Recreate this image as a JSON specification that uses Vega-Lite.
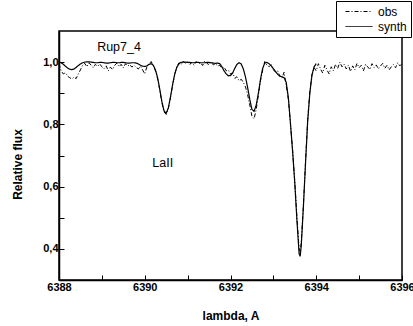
{
"$schema":"https://vega.github.io/schema/vega-lite/v6.json",
"width":343,"height":249,
"autosize":{"type":"none"},
"padding":{"left":59,"top":31,"right":11,"bottom":46},
"config":{"view":{"stroke":"black","strokeWidth":1.5},"font":"Liberation Sans"},
"datasets":{
"synth":[[6388.00,1.000],[6388.05,0.998],[6388.10,0.993],[6388.15,0.987],[6388.20,0.981],[6388.25,0.977],[6388.30,0.976],[6388.35,0.978],[6388.40,0.983],[6388.45,0.989],[6388.50,0.994],[6388.55,0.998],[6388.60,1.000],[6388.65,1.001],[6388.70,1.001],[6388.75,1.000],[6388.80,0.999],[6388.85,0.998],[6388.90,0.998],[6388.95,0.999],[6389.00,0.999],[6389.05,0.998],[6389.10,0.997],[6389.15,0.997],[6389.20,0.998],[6389.25,0.999],[6389.30,0.999],[6389.35,0.998],[6389.40,0.998],[6389.45,0.999],[6389.50,0.999],[6389.55,0.998],[6389.60,0.997],[6389.65,0.997],[6389.70,0.998],[6389.75,0.998],[6389.80,0.997],[6389.85,0.994],[6389.90,0.990],[6389.95,0.987],[6390.00,0.986],[6390.05,0.988],[6390.10,0.993],[6390.15,0.995],[6390.20,0.990],[6390.25,0.975],[6390.30,0.950],[6390.35,0.913],[6390.40,0.873],[6390.45,0.843],[6390.50,0.836],[6390.55,0.853],[6390.60,0.888],[6390.65,0.928],[6390.70,0.962],[6390.75,0.984],[6390.80,0.995],[6390.85,0.999],[6390.90,1.000],[6390.95,1.000],[6391.00,0.999],[6391.05,0.999],[6391.10,0.998],[6391.15,0.998],[6391.20,0.999],[6391.25,0.999],[6391.30,0.998],[6391.35,0.998],[6391.40,0.998],[6391.45,0.999],[6391.50,0.999],[6391.55,0.998],[6391.60,0.997],[6391.65,0.996],[6391.70,0.997],[6391.75,0.995],[6391.80,0.985],[6391.85,0.972],[6391.90,0.962],[6391.95,0.956],[6392.00,0.957],[6392.05,0.965],[6392.10,0.980],[6392.15,0.993],[6392.20,0.998],[6392.25,0.994],[6392.30,0.978],[6392.35,0.952],[6392.40,0.918],[6392.45,0.880],[6392.50,0.848],[6392.55,0.842],[6392.60,0.862],[6392.65,0.900],[6392.70,0.945],[6392.75,0.980],[6392.80,0.997],[6392.85,0.999],[6392.90,0.995],[6392.95,0.988],[6393.00,0.979],[6393.05,0.970],[6393.10,0.961],[6393.15,0.955],[6393.20,0.953],[6393.25,0.950],[6393.30,0.935],[6393.35,0.885],[6393.40,0.800],[6393.45,0.710],[6393.50,0.610],[6393.55,0.490],[6393.60,0.385],[6393.625,0.376],[6393.65,0.410],[6393.70,0.535],[6393.75,0.675],[6393.80,0.810],[6393.85,0.900],[6393.90,0.958],[6393.95,0.985],[6394.00,0.995]],
"obs":[[6388.00,0.995],[6388.05,0.972],[6388.10,0.962],[6388.15,0.966],[6388.20,0.955],[6388.25,0.950],[6388.30,0.946],[6388.35,0.952],[6388.40,0.947],[6388.45,0.962],[6388.50,0.975],[6388.55,0.990],[6388.60,0.996],[6388.65,0.985],[6388.70,0.998],[6388.75,0.990],[6388.80,0.982],[6388.85,0.993],[6388.90,0.986],[6388.95,0.994],[6389.00,0.985],[6389.05,0.979],[6389.10,0.988],[6389.15,0.972],[6389.20,0.984],[6389.25,0.976],[6389.30,0.990],[6389.35,0.997],[6389.40,0.985],[6389.45,0.993],[6389.50,0.981],[6389.55,0.995],[6389.60,0.987],[6389.65,0.992],[6389.70,0.984],[6389.75,0.990],[6389.80,0.983],[6389.85,0.978],[6389.90,0.987],[6389.95,0.975],[6390.00,0.962],[6390.05,0.985],[6390.10,0.993],[6390.15,1.002],[6390.20,0.988],[6390.25,0.972],[6390.30,0.946],[6390.35,0.910],[6390.40,0.870],[6390.45,0.840],[6390.50,0.832],[6390.55,0.850],[6390.60,0.885],[6390.65,0.926],[6390.70,0.962],[6390.75,0.986],[6390.80,0.998],[6390.85,0.992],[6390.90,1.003],[6390.95,0.996],[6391.00,1.001],[6391.05,0.993],[6391.10,0.999],[6391.15,0.990],[6391.20,1.002],[6391.25,0.995],[6391.30,0.998],[6391.35,0.989],[6391.40,1.004],[6391.45,0.996],[6391.50,0.992],[6391.55,1.000],[6391.60,0.991],[6391.65,0.996],[6391.70,0.987],[6391.75,0.990],[6391.80,0.980],[6391.85,0.984],[6391.90,0.972],[6391.95,0.975],[6392.00,0.962],[6392.05,0.966],[6392.10,0.948],[6392.15,0.953],[6392.20,0.940],[6392.25,0.945],[6392.30,0.935],[6392.35,0.920],[6392.40,0.895],[6392.45,0.862],[6392.50,0.826],[6392.55,0.818],[6392.60,0.848],[6392.65,0.893],[6392.70,0.940],[6392.75,0.975],[6392.80,1.002],[6392.85,0.990],[6392.90,0.985],[6392.95,0.992],[6393.00,0.975],[6393.05,0.968],[6393.10,0.972],[6393.15,0.955],[6393.20,0.948],[6393.25,0.968],[6393.30,0.925],[6393.35,0.880],[6393.40,0.800],[6393.45,0.715],[6393.50,0.615],[6393.55,0.500],[6393.60,0.400],[6393.625,0.390],[6393.65,0.420],[6393.70,0.540],[6393.75,0.680],[6393.80,0.815],[6393.85,0.905],[6393.90,0.960],[6393.95,0.982],[6394.00,0.972],[6394.05,0.995],[6394.10,0.978],[6394.15,0.965],[6394.20,0.990],[6394.25,0.975],[6394.30,0.962],[6394.35,0.985],[6394.40,0.972],[6394.45,0.993],[6394.50,0.980],[6394.55,1.000],[6394.60,0.985],[6394.65,0.994],[6394.70,0.978],[6394.75,0.990],[6394.80,0.970],[6394.85,0.988],[6394.90,0.975],[6394.95,0.996],[6395.00,0.982],[6395.05,0.990],[6395.10,0.972],[6395.15,0.993],[6395.20,0.985],[6395.25,0.976],[6395.30,0.995],[6395.35,0.983],[6395.40,0.991],[6395.45,0.978],[6395.50,0.988],[6395.55,0.996],[6395.60,0.980],[6395.65,0.990],[6395.70,0.975],[6395.75,0.985],[6395.80,0.992],[6395.85,0.982],[6395.90,0.998],[6395.95,0.988],[6396.00,0.995]],
"notes":[{"l":6389.4,"f":1.048,"t":"Rup7_4"},{"l":6390.42,"f":0.677,"t":"LaII"}]
},
"layer":[
{"data":{"name":"obs"},
 "transform":[{"calculate":"datum[0]","as":"l"},{"calculate":"datum[1]","as":"f"},{"calculate":"'obs'","as":"s"}],
 "mark":{"type":"line","color":"black","strokeWidth":1},
 "encoding":{
  "x":{"field":"l","type":"quantitative","scale":{"domain":[6388,6396],"nice":false,"zero":false},
   "axis":{"orient":"bottom","values":[6388,6389,6390,6391,6392,6393,6394,6395,6396],"format":"d","labelExpr":"datum.value % 2 == 0 ? datum.label : ''","title":"lambda, A","grid":false,"tickSize":-5,"tickColor":"black","domainColor":"black","domainWidth":1.5,"labelColor":"black","labelFontSize":11,"labelFontWeight":"bold","labelFlush":false,"labelPadding":6,"titleColor":"black","titleFontSize":12,"titleFontWeight":"bold","titlePadding":18}},
  "y":{"field":"f","type":"quantitative","scale":{"domain":[0.3,1.1],"nice":false,"zero":false},
   "axis":{"orient":"left","values":[0.4,0.5,0.6,0.7,0.8,0.9,1.0],"labelExpr":"round(datum.value*10) % 2 == 0 ? replace(format(datum.value,'.1f'),'.',',') : ''","title":"Relative flux","grid":false,"tickSize":-5,"tickColor":"black","domainColor":"black","domainWidth":1.5,"labelColor":"black","labelFontSize":11,"labelFontWeight":"bold","labelPadding":6,"titleColor":"black","titleFontSize":12,"titleFontWeight":"bold","titlePadding":18,"titleY":133}},
  "strokeDash":{"field":"s","type":"nominal","scale":{"domain":["obs","synth"],"range":[[4,2,1,2],[1,0]]},
   "legend":{"orient":"none","legendX":277,"legendY":-30,"title":null,"strokeColor":"black","fillColor":"white","padding":4,"symbolType":"stroke","symbolSize":729,"symbolStrokeColor":"black","symbolStrokeWidth":1,"symbolOffset":5,"labelFontSize":12,"labelColor":"black","labelOffset":5,"clipHeight":13,"rowPadding":2}}
 }},
{"data":{"name":"synth"},
 "transform":[{"calculate":"datum[0]","as":"l"},{"calculate":"datum[1]","as":"f"},{"calculate":"'synth'","as":"s"}],
 "mark":{"type":"line","color":"black","strokeWidth":1.2},
 "encoding":{
  "x":{"field":"l","type":"quantitative"},
  "y":{"field":"f","type":"quantitative"},
  "strokeDash":{"field":"s","type":"nominal"}
 }},
{"data":{"name":"notes"},
 "mark":{"type":"text","color":"black","fontSize":12.5,"font":"Liberation Sans"},
 "encoding":{
  "x":{"field":"l","type":"quantitative"},
  "y":{"field":"f","type":"quantitative"},
  "text":{"field":"t","type":"nominal"}
 }}
]
}
